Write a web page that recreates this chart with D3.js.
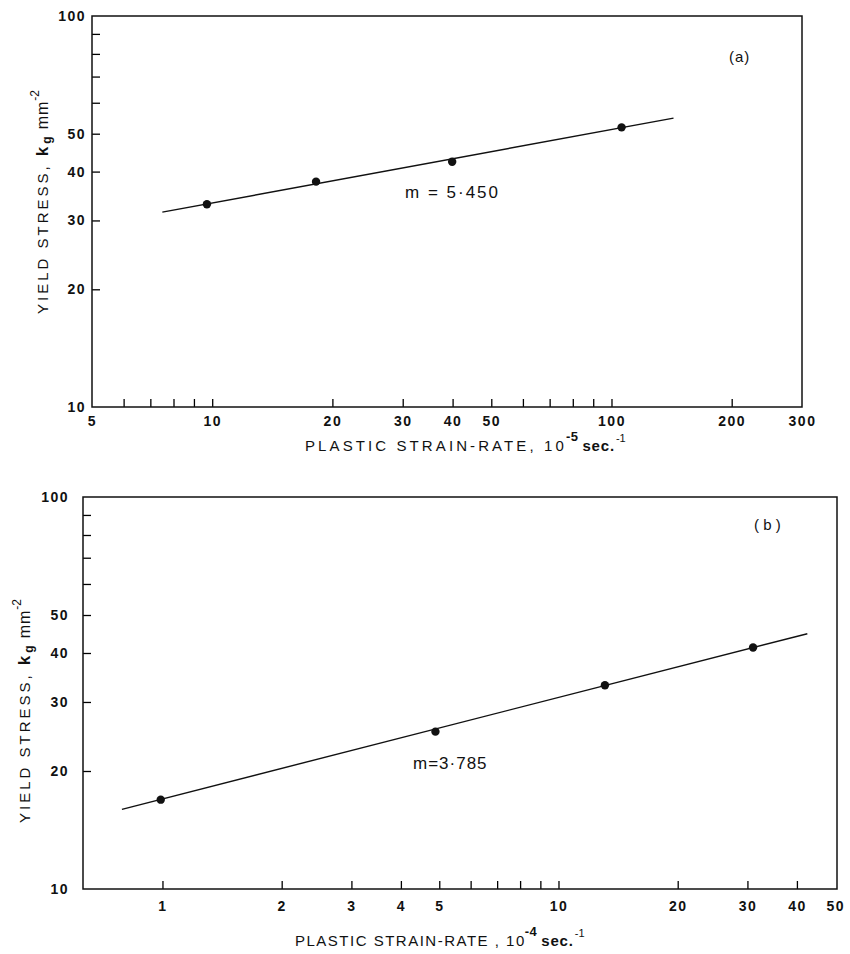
<!DOCTYPE html>
<meta charset="utf-8">
<title>Yield stress vs plastic strain-rate</title>
<script src="https://d3js.org/d3.v7.min.js"></script>
<style>
  body { margin: 0; background: #fff; }
  text { font-family: "Liberation Sans", Arial, sans-serif; fill: #111; }
</style>
<body>
<div id="my_dataviz"></div>
<script>

// ---- panel (a) data ----
var rateA   = [9.7, 18.2, 39.9, 106];
var stressA = [33.0, 37.7, 42.4, 51.9];
var fitA    = [[7.5, 31.5], [143, 54.8]];          // fitted line ends
var xTicksA  = [6, 7, 8, 9, 10, 20, 30, 40, 50, 60, 70, 80, 90, 100, 200];
var xLabelsA = [5, 10, 20, 30, 40, 50, 100, 200, 300];
var slopeA = "m = 5·450";

// ---- panel (b) data ----
var rateB   = [0.99, 4.89, 13.1, 31.0];
var stressB = [16.9, 25.2, 33.1, 41.3];
var fitB    = [[0.79, 15.97], [42.5, 44.8]];
var xTicksB  = [1, 2, 3, 4, 5, 6, 7, 8, 9, 10, 20, 30, 40];
var xLabelsB = [1, 2, 3, 4, 5, 10, 20, 30, 40, 50];
var slopeB = "m=3·785";

// shared y axis
var yTicks  = [20, 30, 40, 50, 60, 70, 80, 90];
var yLabels = [10, 20, 30, 40, 50, 100];

var svg = d3.select("#my_dataviz")
  .append("svg")
    .attr("width", 850)
    .attr("height", 954);

function styleLabels(a) {
  a.select(".domain").remove();
  a.selectAll("text")
    .attr("font-size", 14).attr("font-weight", "bold").attr("letter-spacing", 1.5)
    .attr("font-family", "'Liberation Sans', Arial, sans-serif");
}

function drawPanel(p) {
  var x = d3.scaleLog().domain(p.xDomain).range([p.left, p.right]);
  var y = d3.scaleLog().domain([10, 100]).range([p.bottom, p.top]);
  var g = svg.append("g");

  // inward ticks
  g.append("g")
    .attr("transform", "translate(0," + p.bottom + ")")
    .call(d3.axisBottom(x).tickValues(p.xTicks).tickSize(-8).tickFormat(""))
    .call(function(a){ a.select(".domain").remove(); a.selectAll("line").attr("stroke-width", 1.3); });
  g.append("g")
    .attr("transform", "translate(" + p.left + ",0)")
    .call(d3.axisLeft(y).tickValues(yTicks).tickSize(-8).tickFormat(""))
    .call(function(a){ a.select(".domain").remove(); a.selectAll("line").attr("stroke-width", 1.3); });

  // tick labels
  g.append("g")
    .attr("transform", "translate(0," + p.bottom + ")")
    .call(d3.axisBottom(x).tickValues(p.xLabels).tickSize(0).tickPadding(p.xPad).tickFormat(d3.format("d")))
    .call(styleLabels);
  g.append("g")
    .attr("transform", "translate(" + p.left + ",0)")
    .call(d3.axisLeft(y).tickValues(yLabels).tickSize(0).tickPadding(p.yPad).tickFormat(d3.format("d")))
    .call(styleLabels);

  // frame
  g.append("rect")
    .attr("x", p.left).attr("y", p.top)
    .attr("width", p.right - p.left).attr("height", p.bottom - p.top)
    .attr("fill", "none").attr("stroke", "#111").attr("stroke-width", 1.5);

  // fitted line
  g.append("path")
    .datum(p.fit)
    .attr("fill", "none").attr("stroke", "#111").attr("stroke-width", 1.4)
    .attr("d", d3.line().x(function(d){ return x(d[0]); }).y(function(d){ return y(d[1]); }));

  // points
  g.selectAll("circle")
    .data(d3.zip(p.rate, p.stress))
    .enter().append("circle")
      .attr("cx", function(d){ return x(d[0]); })
      .attr("cy", function(d){ return y(d[1]); })
      .attr("r", 4.2)
      .attr("fill", "#111");

  // slope note and panel tag
  g.append("text")
    .attr("x", p.slopeX).attr("y", p.slopeY)
    .attr("font-size", 17).attr("letter-spacing", p.slopeSpacing)
    .text(p.slope);
  g.append("text")
    .attr("x", p.tagX).attr("y", p.tagY)
    .attr("font-size", 15).attr("letter-spacing", p.tagSpacing)
    .text(p.tag);

  // x axis title
  var xt = g.append("text")
    .attr("x", p.xTitleX).attr("y", p.xTitleY)
    .attr("font-size", 15).attr("letter-spacing", p.xTitleSpacing);
  xt.append("tspan").text(p.xTitle);
  xt.append("tspan").attr("dy", -10).attr("dx", -1).attr("font-size", 13).attr("font-weight", "bold").attr("letter-spacing", 0.5).text(p.exp);
  xt.append("tspan").attr("dy", 10).attr("dx", 4).attr("font-size", 15).attr("font-weight", "bold").attr("letter-spacing", 0.8).text("sec.");
  xt.append("tspan").attr("dy", -9).attr("dx", 1).attr("font-size", 11).attr("letter-spacing", 0).text("-1");

  // y axis title
  var yt = g.append("text")
    .attr("transform", "translate(" + p.yTitleX + "," + p.yTitleY + ") rotate(-90)")
    .attr("text-anchor", "middle")
    .attr("font-size", 15).attr("letter-spacing", 3);
  yt.append("tspan").text("YIELD  STRESS, ");
  yt.append("tspan").attr("font-weight", "bold").attr("font-size", 17).text("k");
  yt.append("tspan").attr("dy", 3).attr("font-weight", "bold").attr("font-size", 12).attr("letter-spacing", 0).text("g");
  yt.append("tspan").attr("dy", -3).attr("dx", 7).attr("font-size", 16).attr("letter-spacing", 1).text("mm");
  yt.append("tspan").attr("dy", -9).attr("font-size", 12).attr("letter-spacing", 0).text("-2");
}

drawPanel({
  left: 92, right: 802, top: 16, bottom: 407, xDomain: [5, 300],
  xTicks: xTicksA, xLabels: xLabelsA, xPad: 9, yPad: 6,
  rate: rateA, stress: stressA, fit: fitA,
  slope: slopeA, slopeX: 405, slopeY: 198, slopeSpacing: 2,
  tag: "(a)", tagX: 729, tagY: 62, tagSpacing: 1,
  xTitle: "PLASTIC  STRAIN-RATE, 10", xTitleX: 305, xTitleY: 451, xTitleSpacing: 3.1, exp: "-5",
  yTitleX: 48, yTitleY: 202
});

drawPanel({
  left: 83, right: 837, top: 497, bottom: 889, xDomain: [0.63, 50.5],
  xTicks: xTicksB, xLabels: xLabelsB, xPad: 12, yPad: 14,
  rate: rateB, stress: stressB, fit: fitB,
  slope: slopeB, slopeX: 413, slopeY: 769, slopeSpacing: 1,
  tag: "( b )", tagX: 754, tagY: 530, tagSpacing: 0,
  xTitle: "PLASTIC STRAIN-RATE , 10", xTitleX: 295, xTitleY: 946, xTitleSpacing: 1.5, exp: "-4",
  yTitleX: 30, yTitleY: 711
});

</script>
</body>
